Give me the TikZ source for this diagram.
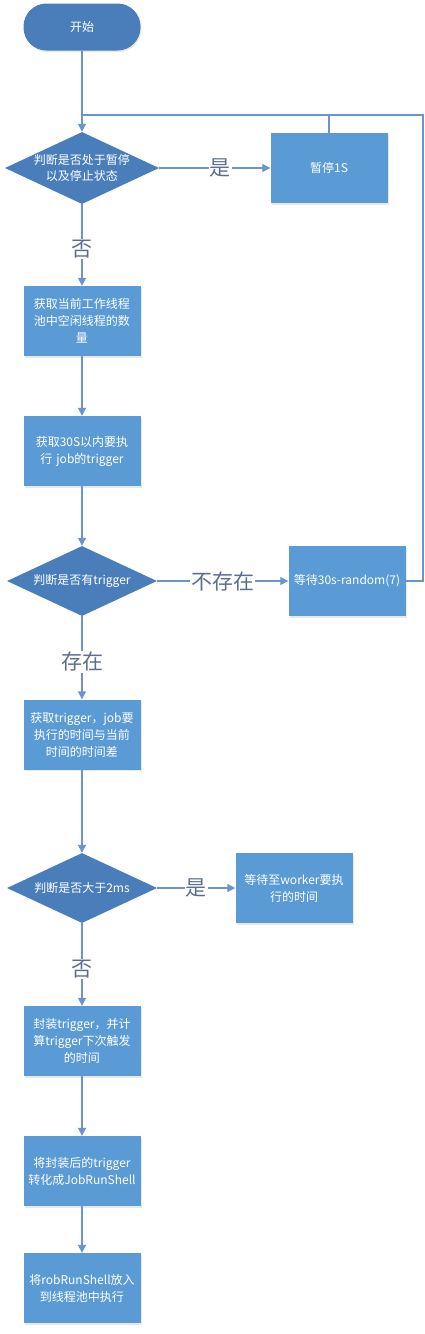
\documentclass[tikz,border=0pt]{standalone}
\usepackage{fontspec}
\setmainfont{Noto Sans CJK SC}
\usetikzlibrary{shapes.geometric,arrows.meta,shadows}
\definecolor{darkfill}{HTML}{4A7EBB}
\definecolor{boxfill}{HTML}{5B9BD5}
\definecolor{linec}{HTML}{6B93CC}
\definecolor{labc}{HTML}{5D6F8C}
\tikzset{
  x=1pt,y=-1pt,
  base/.style={text=white,font=\fontsize{12}{17}\selectfont,align=center,inner sep=0pt},
  stepbox/.style={base,rectangle,fill=boxfill,minimum width=117pt,minimum height=70pt,text width=110pt,
    drop shadow={opacity=0.18,shadow xshift=1pt,shadow yshift=-1.5pt}},
  decision/.style={base,diamond,fill=darkfill,minimum width=150pt,minimum height=70pt,aspect=2.14,inner sep=0pt,font=\fontsize{12}{16}\selectfont},
  startbox/.style={base,rectangle,rounded corners=23pt,fill=darkfill,minimum width=117pt,minimum height=47pt,
    drop shadow={opacity=0.18,shadow xshift=1pt,shadow yshift=-1.5pt}},
  conn/.style={draw=linec,line width=1.3pt,-{Triangle[length=8pt,width=8pt]}},
  plain/.style={draw=linec,line width=1.3pt},
  lab/.style={fill=white,text=labc,font=\fontsize{21}{21}\selectfont,inner sep=1pt}
}
\begin{document}
\begin{tikzpicture}
\useasboundingbox (0,0) rectangle (425,1334);
\node[startbox] (start) at (82,27) {开始};
\node[decision] (d1) at (82,168) {判断是否处于暂停\\以及停止状态};
\node[stepbox] (pause) at (329,168) {暂停1S};
\node[stepbox] (b2) at (82,321) {获取当前工作线程\\池中空闲线程的数\\量};
\node[stepbox] (b3) at (82,451) {获取30S以内要执\\行 job的trigger};
\node[decision] (d2) at (82,581) {判断是否有trigger};
\node[stepbox] (wait) at (347,581) {等待30s-random(7)};
\node[stepbox] (b4) at (82,734.5) {获取trigger，job要\\执行的时间与当前\\时间的时间差};
\node[decision] (d3) at (82,888) {判断是否大于2ms};
\node[stepbox] (waitw) at (294,888) {等待至worker要执\\行的时间};
\node[stepbox] (b6) at (82,1041) {封装trigger，并计\\算trigger下次触发\\的时间};
\node[stepbox] (b7) at (82,1171) {将封装后的trigger\\转化成JobRunShell};
\node[stepbox] (b8) at (82,1288) {将robRunShell放入\\到线程池中执行};
\coordinate (loopL) at (82,115);
\coordinate (loopR) at (423,115);
\coordinate (pauseTop) at (329,115);
\coordinate (waitR) at (423,581);
\draw[plain] (start) -- (loopL);
\draw[conn] (loopL) -- (d1);
\draw[plain] (pause) -- (pauseTop);
\draw[plain] (loopL) -- (loopR) -- (waitR) -- (wait);
\draw[conn] (d1) -- node[lab,pos=0.55] {是} (pause);
\draw[conn] (d1) -- node[lab,pos=0.55] {否} (b2);
\draw[conn] (b2) -- (b3);
\draw[conn] (b3) -- (d2);
\draw[conn] (d2) -- node[lab,pos=0.5] {不存在} (wait);
\draw[conn] (d2) -- node[lab,pos=0.55] {存在} (b4);
\draw[conn] (b4) -- (d3);
\draw[conn] (d3) -- node[lab,pos=0.5] {是} (waitw);
\draw[conn] (d3) -- node[lab,pos=0.55] {否} (b6);
\draw[conn] (b6) -- (b7);
\draw[conn] (b7) -- (b8);
\end{tikzpicture}
\end{document}
